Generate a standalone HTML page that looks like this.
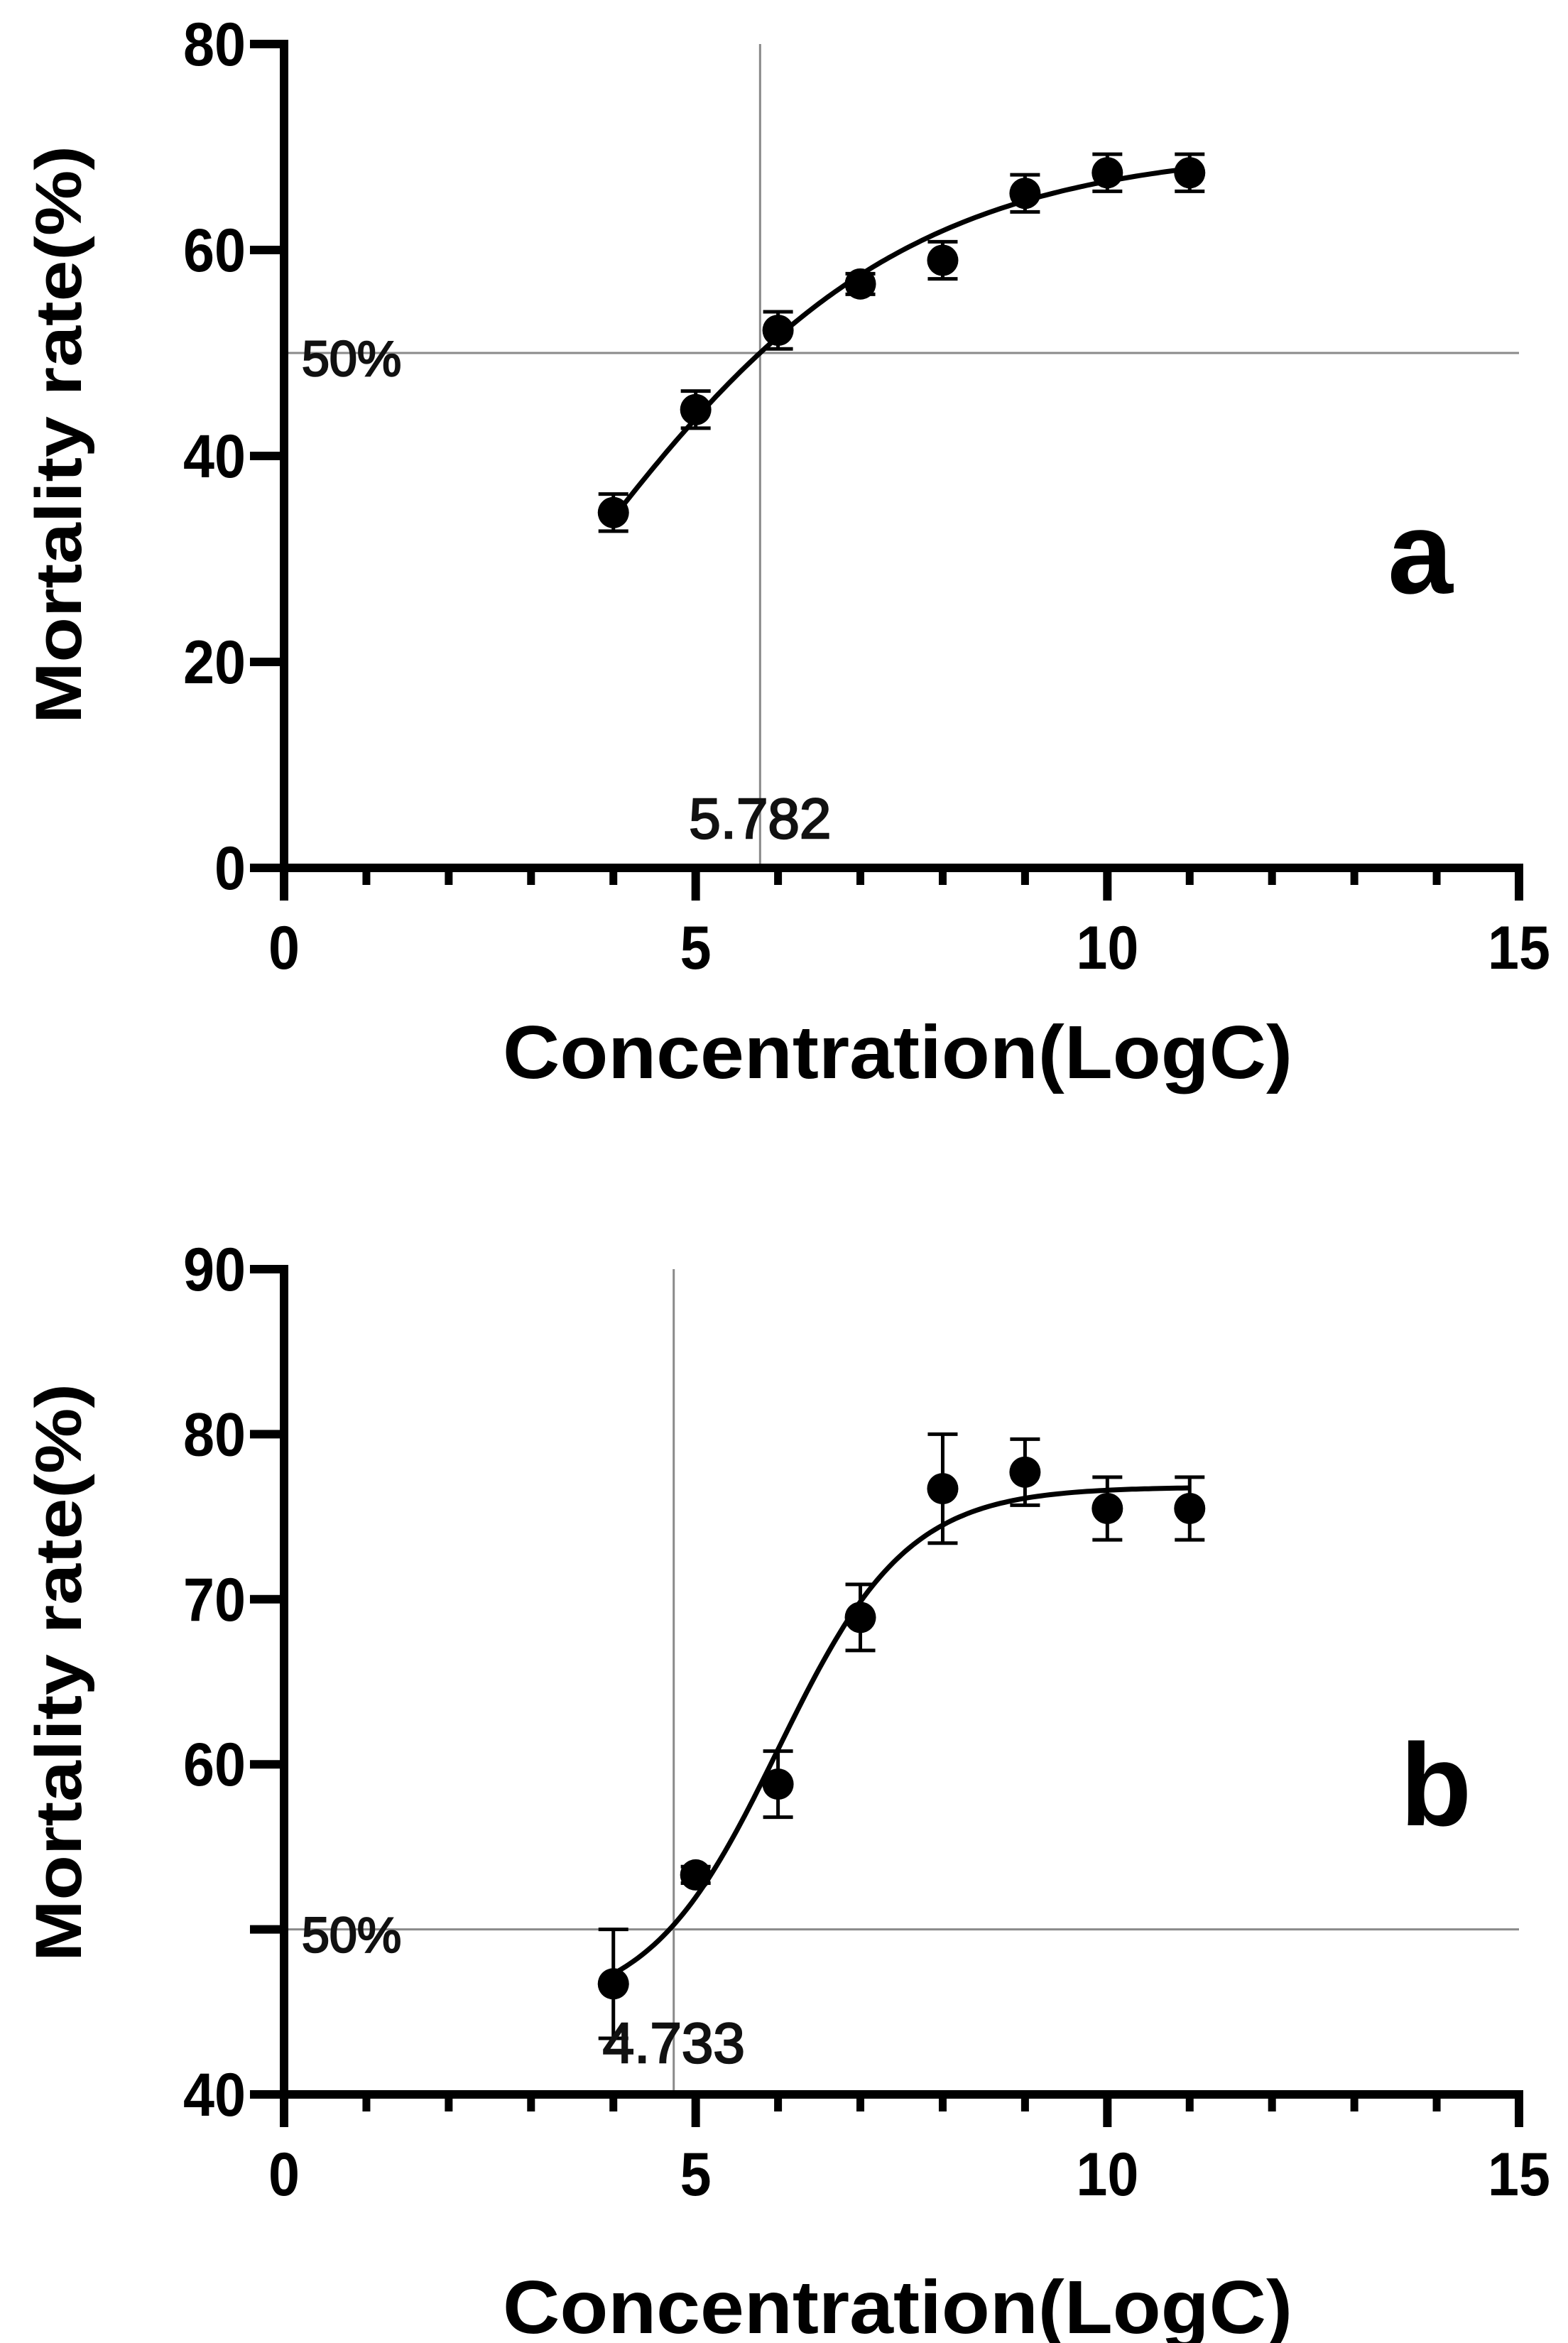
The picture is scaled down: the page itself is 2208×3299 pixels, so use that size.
<!DOCTYPE html>
<html><head><meta charset="utf-8">
<style>
html,body{margin:0;padding:0;background:#fff;}
svg{display:block;font-family:"Liberation Sans",Arial,sans-serif;}
</style></head>
<body>
<svg id="fig" width="2208" height="3299" viewBox="0 0 2208 3299" xmlns="http://www.w3.org/2000/svg"></svg>
<script>
// Panel a data
const xValsA = [4,5,6,7,8,9,10,11];
const yValsA = [34.5,44.5,52.2,56.7,59.0,65.5,67.5,67.5];
const errA = [1.8,1.8,1.8,1.0,1.8,1.8,1.8,1.8];
const yTicksA = [0,20,40,60,80];
const fitA = [-20,70,0.476,3.149]; // bottom, top, slope, midpoint
const ec50A = 5.782;
// Panel b data
const xValsB = [4,5,6,7,8,9,10,11];
const yValsB = [46.7,53.3,58.8,68.9,76.7,77.7,75.5,75.5];
const errB = [3.3,0.5,2.0,2.0,3.3,2.0,1.9,1.9];
const yTicksB = [40,50,60,70,80,90];
const yTickLabelsB = ['40','','60','70','80','90'];
const fitB = [45,76.8,1.274,6.0];
const ec50B = 4.733;
const xTicks = [0,5,10,15];

const NS='http://www.w3.org/2000/svg';
const svg=document.getElementById('fig');
function el(tag,attrs,parent,text){const e=document.createElementNS(NS,tag);for(const k in attrs)e.setAttribute(k,attrs[k]);if(text!==undefined)e.textContent=text;(parent||svg).appendChild(e);return e;}

function panel(cfg){
  const g=el('g',{});
  
  
  const x0=400,x1=2139;
  const sx=v=>x0+(v-0)/15*(x1-x0);
  const sy=v=>cfg.yBot+(v-cfg.yMin)/(cfg.yMax-cfg.yMin)*(cfg.yTop-cfg.yBot);
  const hl=el('line',{x1:x0,x2:x1,y1:sy(50),y2:sy(50),stroke:'#8a8a8a','stroke-width':3},g);
  
  
  const vl=el('line',{x1:sx(cfg.ec50),x2:sx(cfg.ec50),y1:cfg.yTop,y2:cfg.yBot,stroke:'#8a8a8a','stroke-width':3},g);
  
  
  const ya=el('line',{x1:x0,x2:x0,y1:cfg.yTop-6,y2:cfg.yBot+46,stroke:'#000','stroke-width':12},g);
  
  
  const xa=el('line',{x1:352,x2:x1+6,y1:cfg.yBot,y2:cfg.yBot,stroke:'#000','stroke-width':12},g);
  
  
  cfg.yTicks.forEach((v,i)=>{
    const t=el('line',{x1:352,x2:x0,y1:sy(v),y2:sy(v),stroke:'#000','stroke-width':12},g);
    
    
    const lab=cfg.yLabels?cfg.yLabels[i]:String(v);
    if(lab){const tx=el('text',{x:346,y:sy(v)+30,'text-anchor':'end','font-size':86,'font-weight':'bold',transform:`translate(346,0) scale(0.92,1) translate(-346,0)`},g,lab);
    
    }
  });
  for(let v=1;v<15;v++){
    if(v%5===0)continue;
    const t=el('line',{x1:sx(v),x2:sx(v),y1:cfg.yBot,y2:cfg.yBot+24,stroke:'#000','stroke-width':11},g);
    
    
  }
  xTicks.forEach(v=>{
    const t=el('line',{x1:sx(v),x2:sx(v),y1:cfg.yBot,y2:cfg.yBot+46,stroke:'#000','stroke-width':12},g);
    
    
    const tx=el('text',{x:sx(v),y:cfg.yBot+142,'text-anchor':'middle','font-size':86,'font-weight':'bold',transform:`translate(${sx(v)},0) scale(0.92,1) translate(${-sx(v)},0)`},g,String(v));
    
    
  });
  const [B,T,k,m]=cfg.fit;
  let d='';
  for(let i=0;i<=140;i++){const xv=4+7*i/140;const yv=B+(T-B)/(1+Math.exp(-k*(xv-m)));d+=(i?'L':'M')+sx(xv).toFixed(1)+','+sy(yv).toFixed(1);}
  const c=el('path',{d:d,fill:'none',stroke:'#000','stroke-width':7},g);
  
  
  cfg.xs.forEach((xv,i)=>{
    const yv=cfg.ys[i],e=cfg.err[i];
    const px=sx(xv);
    const eb=el('path',{d:`M${px},${sy(yv+e)}V${sy(yv-e)}M${px-21},${sy(yv+e)}H${px+21}M${px-21},${sy(yv-e)}H${px+21}`,stroke:'#000','stroke-width':5,fill:'none'},g);
    
    
    const p=el('circle',{cx:px,cy:sy(yv),r:22,fill:'#000'},g);
    
    
  });
  const f=el('text',{x:425,y:sy(50)+32,'font-size':70,fill:'#111',stroke:'#111','stroke-width':2.5},g,'50%');
  
  
  const ec=el('text',{x:sx(cfg.ec50),y:cfg.ecY,'text-anchor':'middle','font-size':80,fill:'#111',stroke:'#111','stroke-width':2.5},g,cfg.ec50.toFixed(3));
  
  
  const pl=el('text',{x:cfg.letterX,y:cfg.letterY,'text-anchor':'middle','font-size':165,'font-weight':'bold'},g,cfg.id);
  
  
  const xt=el('text',{x:1264,y:cfg.xTitleY,'text-anchor':'middle','font-size':106,'font-weight':'bold',textLength:1112,lengthAdjust:'spacingAndGlyphs'},g,'Concentration(LogC)');
  
  
  const yt=el('text',{x:0,y:0,'text-anchor':'middle','font-size':92,'font-weight':'bold',textLength:814,lengthAdjust:'spacingAndGlyphs',transform:`translate(114,${cfg.yTitleC}) rotate(-90)`},g,'Mortality rate(%)');
  
  
}

panel({id:'a',yTop:62,yBot:1222,yMin:0,yMax:80,yTicks:yTicksA,xs:xValsA,ys:yValsA,err:errA,fit:fitA,ec50:ec50A,ecY:1180,letterX:2000,letterY:835,xTitleY:1518,yTitleC:612});
panel({id:'b',yTop:1787,yBot:2949,yMin:40,yMax:90,yTicks:yTicksB,yLabels:yTickLabelsB,xs:xValsB,ys:yValsB,err:errB,fit:fitB,ec50:ec50B,ecY:2904,letterX:2022,letterY:2570,xTitleY:3285,yTitleC:2355});
</script>
</body></html>
